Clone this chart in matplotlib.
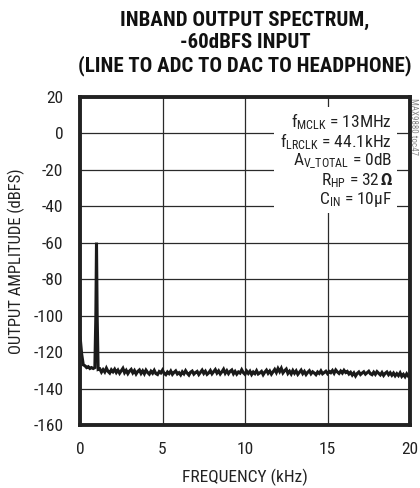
import matplotlib
matplotlib.use("Agg")
import matplotlib.pyplot as plt
import matplotlib.font_manager as fm
import numpy as np

# low end of the spectrum: rise near DC and the 1kHz test tone
low_freq = [0.0, 0.03, 0.06, 0.1, 0.15, 0.2, 0.3, 0.4, 0.5, 0.6, 0.7, 0.8, 0.9, 0.96, 1.0, 1.04, 1.1]
low_db = [-112, -114, -117, -121, -124, -127, -127.5, -128.5, -128, -129, -128.5, -129, -128.5,
          -100, -60, -100, -129.5]

# noise floor, 0.1kHz steps from 1.2kHz to 20kHz
floor_db = [
    -129.2, -131.0, -129.6, -130.9, -128.8, -130.6, -131.5, -129.7, -130.8, -129.4,
    -131.2, -129.9, -131.6, -130.2, -128.9, -131.3, -130.0, -131.8, -130.4, -129.5,
    -131.4, -130.1, -132.0, -130.6, -129.8, -131.7, -130.3, -131.9, -129.9, -131.2,
    -132.1, -130.5, -131.6, -130.0, -131.8, -132.3, -130.7, -131.4, -129.9, -131.7,
    -132.4, -130.9, -131.8, -130.4, -132.2, -131.1, -130.3, -132.0, -131.3, -132.5,
    -130.8, -131.9, -130.2, -131.6, -132.6, -131.0, -130.4, -132.1, -131.2, -130.6,
    -132.3, -131.1, -129.9, -131.7, -130.5, -132.2, -131.4, -130.1, -131.9, -130.7,
    -129.6, -131.5, -130.3, -132.0, -130.8, -129.4, -131.6, -130.2, -131.8, -130.5,
    -129.8, -131.9, -130.6, -132.1, -130.9, -131.5, -129.7, -131.3, -132.2, -130.4,
    -131.7, -130.5, -132.3, -130.9, -131.8, -130.2, -132.0, -131.4, -130.6, -132.4,
    -131.0, -129.9, -131.6, -130.4, -132.1, -130.8, -129.5, -131.2, -129.0, -130.7,
    -128.9, -131.4, -130.2, -129.3, -131.7, -130.5, -132.0, -130.1, -131.6, -130.3,
    -132.2, -131.0, -129.9, -131.8, -130.6, -132.3, -131.1, -130.2, -131.9, -130.8,
    -131.5, -132.4, -130.9, -131.7, -130.3, -131.9, -131.2, -130.5, -131.8, -130.6,
    -131.3, -130.1, -131.6, -129.8, -130.9, -131.7, -130.4, -131.5, -130.0, -131.2,
    -130.6, -132.0, -131.1, -132.6, -131.4, -133.1, -131.7, -130.9, -132.3, -131.5,
    -130.8, -132.1, -131.3, -130.5, -131.9, -132.4, -131.0, -132.2, -130.7, -131.6,
    -132.5, -131.2, -132.8, -131.6, -130.9, -132.4, -131.3, -132.7, -131.5, -133.0,
    -131.8, -132.9, -131.4, -133.3, -132.2, -133.5, -131.9, -133.2, -132.4,
]
floor_freq = np.round(np.arange(len(floor_db)) * 0.1 + 1.2, 2)

x_ticks = [0, 5, 10, 15, 20]
y_ticks = [20, 0, -20, -40, -60, -80, -100, -120, -140, -160]

notes = [
    r"$\mathregular{f_{MCLK}}$ = 13MHz",
    r"$\mathregular{f_{LRCLK}}$ = 44.1kHz",
    r"$\mathregular{A_{V\_TOTAL}}$ = 0dB",
    r"$\mathregular{R_{HP}}$ = 32Ω",
    r"$\mathregular{C_{IN}}$ = 10µF",
]

# pick a condensed face, falling back to DejaVu Sans Condensed
installed = {f.name for f in fm.fontManager.ttflist}
narrow = next((n for n in ["Roboto Condensed", "Archivo Narrow", "IBM Plex Sans Condensed",
                           "Barlow Semi Condensed"] if n in installed), "DejaVu Sans")
plt.rcParams["font.family"] = [narrow, "DejaVu Sans"]
plt.rcParams["font.stretch"] = "condensed"
plt.rcParams["axes.unicode_minus"] = False
plt.rcParams["mathtext.fontset"] = "custom"
plt.rcParams["mathtext.rm"] = narrow

freq = np.concatenate([low_freq, floor_freq])
amp = np.concatenate([low_db, floor_db])

fig = plt.figure(figsize=(4.2, 4.88), dpi=100)
ax = fig.add_axes([80 / 420, 1 - 425 / 488, 330 / 420, 328 / 488])

ax.plot(freq, amp, color="#1a1a1a", lw=2.2, solid_joinstyle="miter")

ax.set_xlim(0, 20)
ax.set_ylim(-160, 20)
ax.set_xticks(x_ticks)
ax.set_yticks(y_ticks)
ax.grid(True, color="#2a2a2a", lw=0.9)
ax.set_axisbelow(True)
ax.tick_params(length=0, labelsize=12.5, colors="#222222")
ax.tick_params(axis="y", pad=12)
ax.tick_params(axis="x", pad=12)
for s in ax.spines.values():
    s.set_linewidth(2.8)
    s.set_color("#222222")

ax.set_xlabel("FREQUENCY (kHz)", fontsize=12.5, color="#222222", labelpad=9)
ax.set_ylabel("OUTPUT AMPLITUDE (dBFS)", fontsize=12, color="#222222", va="center")
ax.yaxis.set_label_coords(-64 / 330, 0.5)

# white panel behind the condition notes
ax.add_patch(plt.Rectangle((11.75, -43.5), 7.45, 58, facecolor="white", edgecolor="none",
                           zorder=1.5))
for i, t in enumerate(notes):
    y = 6.3 - i * 10.7
    if t.endswith("Ω"):
        ax.annotate(t[:-1], (18.9, y), xytext=(-8.5, 0), textcoords="offset points",
                    ha="right", va="center", fontsize=12.5, color="#222222", zorder=3)
        ax.text(18.9, y, "Ω", ha="right", va="center", fontsize=10.5,
                family="DejaVu Sans", fontweight="bold", color="#222222", zorder=3)
    else:
        ax.text(18.9, y, t, ha="right", va="center", fontsize=12.5,
                color="#222222", zorder=3)

fig.text(0.984, 0.80, "MAX9880 toc47", rotation=-90, fontsize=6.5, color="#888888",
         ha="center", va="top")

fig.text(245 / 420, 1 - 43 / 488,
         "INBAND OUTPUT SPECTRUM,\n-60dBFS INPUT\n(LINE TO ADC TO DAC TO HEADPHONE)",
         ha="center", va="center", fontsize=15, fontweight="black", linespacing=1.2,
         color="#111111")

fig.savefig("out.png", dpi=100)
